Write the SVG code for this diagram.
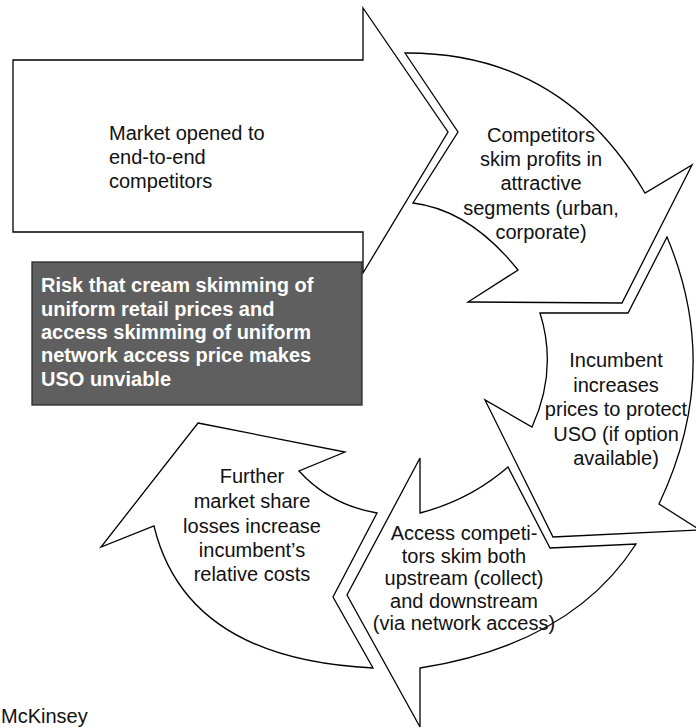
<svg xmlns="http://www.w3.org/2000/svg" width="696" height="728" viewBox="0 0 696 728">
<style>
.shape{fill:#ffffff;stroke:#000000;stroke-width:1.3;stroke-linejoin:miter}
.t{font-family:"Liberation Sans",Arial,sans-serif;font-size:20px;fill:#111111}
.c{text-anchor:middle}
.b{font-family:"Liberation Sans",Arial,sans-serif;font-size:20px;font-weight:bold;fill:#ffffff}
</style>
<rect x="0" y="0" width="696" height="728" fill="#ffffff"/>
<g id="connectors"/>
<g id="node-market">
<path class="shape" d="M13,60 H363 V8 L448,132 L363,273 V232 H13 Z"/>
<text class="t" x="109"><tspan x="109" y="140">Market opened to</tspan><tspan x="109" y="164">end-to-end</tspan><tspan x="109" y="188">competitors</tspan></text>
</g>
<g id="node-competitors">
<path class="shape" d="M405,53 L458,132 L413,203 Q470,210 518,270 L468,302 L622,303 L692,165 L645,193 Q562,52 405,53 Z"/>
<text class="t c"><tspan x="541" y="142">Competitors</tspan><tspan x="541" y="166">skim profits in</tspan><tspan x="541" y="190">attractive</tspan><tspan x="541" y="215">segments (urban,</tspan><tspan x="541" y="239">corporate)</tspan></text>
</g>
<g id="node-incumbent">
<path class="shape" d="M540,313 L628,313 L667,237 Q723,370 659,504 L700,530 L553,537 L485,400 L532,427 Q558,370 540,313 Z"/>
<text class="t c"><tspan x="616" y="367">Incumbent</tspan><tspan x="616" y="392">increases</tspan><tspan x="616" y="416">prices to protect</tspan><tspan x="616" y="441">USO (if option</tspan><tspan x="616" y="465">available)</tspan></text>
</g>
<g id="node-access">
<path class="shape" d="M420,458 L420,513 Q470,500 508,467 L550,548 L636,544 Q572,644 420,668 L420,727 L347,595 Z"/>
<text class="t c"><tspan x="464" y="540">Access competi-</tspan><tspan x="464" y="563">tors skim both</tspan><tspan x="464" y="585">upstream (collect)</tspan><tspan x="464" y="608">and downstream</tspan><tspan x="464" y="630">(via network access)</tspan></text>
</g>
<g id="node-further">
<path class="shape" d="M198,423 L345,452 L299,471 Q330,505 377,513 L333,597 L373,668 Q186,659 154,526 L101,547 Z"/>
<text class="t c"><tspan x="252" y="483">Further</tspan><tspan x="252" y="508">market share</tspan><tspan x="252" y="533">losses increase</tspan><tspan x="252" y="557">incumbent’s</tspan><tspan x="252" y="581">relative costs</tspan></text>
</g>
<g id="node-risk">
<rect x="32" y="262" width="330" height="143" fill="#5f5f5f" stroke="#2a2a2a" stroke-width="1.3"/>
<text class="b"><tspan x="41" y="292">Risk that cream skimming of</tspan><tspan x="41" y="315.5">uniform retail prices and</tspan><tspan x="41" y="339">access skimming of uniform</tspan><tspan x="41" y="362">network access price makes</tspan><tspan x="41" y="385.5">USO unviable</tspan></text>
</g>
<g id="source">
<text class="t" x="1" y="723">McKinsey</text>
</g>
</svg>
